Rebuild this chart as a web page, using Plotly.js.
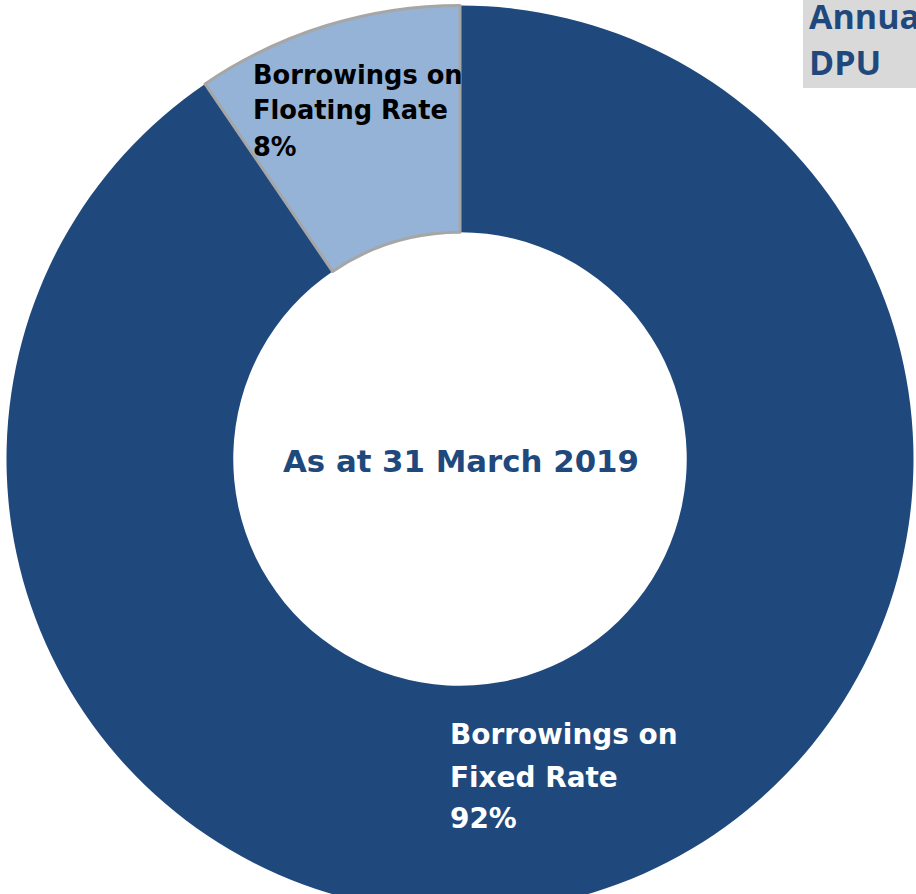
<!DOCTYPE html>
<html>
<head>
<meta charset="utf-8">
<script src="https://cdn.plot.ly/plotly-3.0.1.min.js"></script>
<style>
html,body{margin:0;padding:0;overflow:hidden;background:#fff;}
#chart{width:916px;height:918px;}
</style>
</head>
<body>
<div id="chart"></div>
<script>
// Data
const categories = ["Borrowings on Fixed Rate", "Borrowings on Floating Rate"];
const sliceShares = [90.5, 9.5];           // angular share as drawn
const shownPercents = ["92%", "8%"];       // percentages printed on the chart
const labelLines = [["Borrowings on", "Fixed Rate"], ["Borrowings on", "Floating Rate"]];
const centerText = "As at 31 March 2019";
const sideBoxLines = ["Annualised", "DPU"];

const W = 916, H = 918;
const px = x => x / W;
const py = y => 1 - y / H;

const darkBlue = "#1f497d";
const lightBlue = "#95b3d7";

const trace = {
  type: "pie",
  labels: categories,
  values: sliceShares,
  hole: 0.5,
  sort: false,
  direction: "clockwise",
  rotation: 0,
  textinfo: "none",
  hoverinfo: "label+percent",
  marker: {
    colors: [darkBlue, lightBlue],
    line: {color: [darkBlue, "#a6a6a6"], width: [0, 3]}
  },
  domain: {x: [px(6.5), px(913.5)], y: [0, 1]},
  showlegend: false
};

const annotations = [];
function addLines(lines, x, yMids, size, color, family) {
  lines.forEach((t, i) => {
    annotations.push({
      xref: "paper", yref: "paper",
      x: px(x), y: py(yMids[i]),
      xanchor: "left", yanchor: "middle",
      text: "<b>" + t + "</b>", showarrow: false,
      font: {family: family, size: size, color: color}
    });
  });
}
const gothic = "DejaVu Sans, Verdana, sans-serif";
// Floating rate label
addLines(labelLines[1].concat([shownPercents[1]]), 251, [75, 110, 147], 25.7, "#000000", gothic);
// Fixed rate label
addLines(labelLines[0].concat([shownPercents[0]]), 448, [734, 777, 818], 27.9, "#ffffff", gothic);
// Center text
annotations.push({
  xref: "paper", yref: "paper", x: px(461), y: py(461),
  xanchor: "center", yanchor: "middle", showarrow: false,
  text: "<b>" + centerText + "</b>",
  font: {family: gothic, size: 30.8, color: darkBlue}
});
// Side box text (clipped at right edge, as in the reference)
addLines(sideBoxLines, 807, [16, 62], 34, darkBlue, "Open Sans, Liberation Sans, sans-serif");

const layout = {
  width: W, height: H,
  margin: {l: 0, r: 0, t: 0, b: 0},
  paper_bgcolor: "#ffffff",
  plot_bgcolor: "#ffffff",
  showlegend: false,
  shapes: [{
    type: "rect", xref: "paper", yref: "paper",
    x0: px(803), x1: px(930), y0: py(88), y1: py(-5),
    fillcolor: "#d9d9d9", line: {width: 0}, layer: "below"
  }],
  annotations: annotations
};

Plotly.newPlot("chart", [trace], layout, {displayModeBar: false, staticPlot: true});
</script>
</body>
</html>
